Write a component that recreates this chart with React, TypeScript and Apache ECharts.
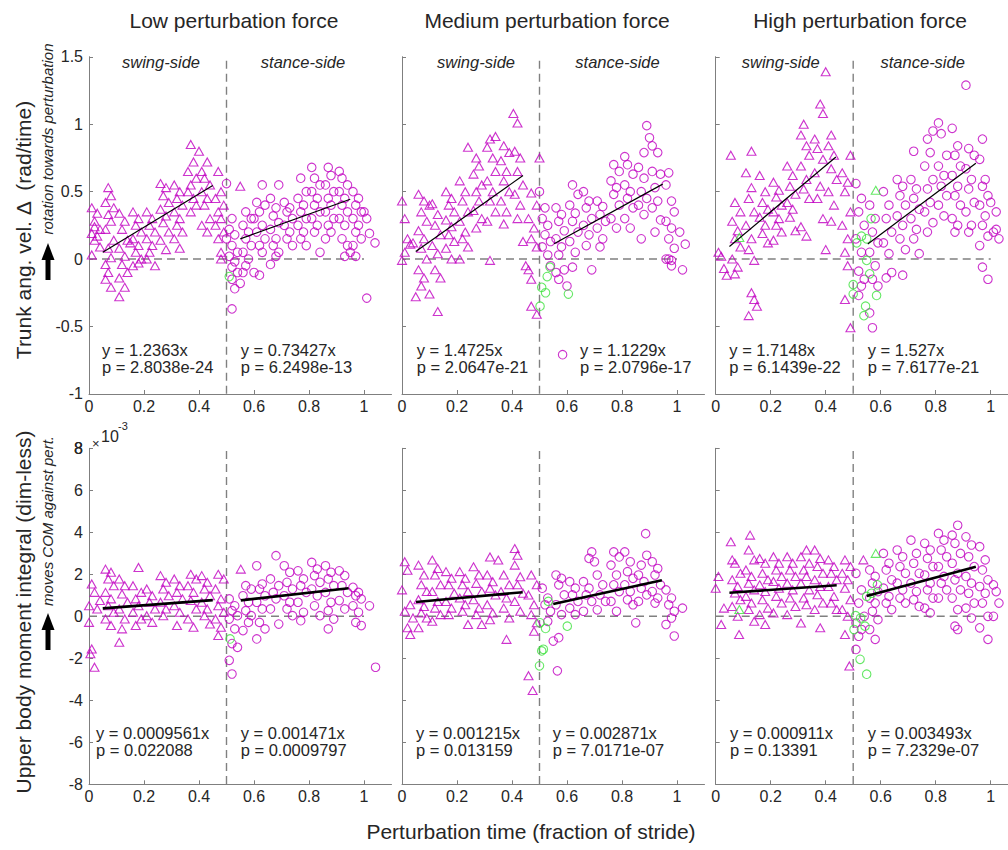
import React, { useEffect, useRef } from "react";
import * as echarts from "echarts";

// ---------------- data ----------------
const xTicks = [0, 0.2, 0.4, 0.6, 0.8, 1];
const yTicksTop = [-1, -0.5, 0, 0.5, 1, 1.5];
const yTicksBot = [-8, -6, -4, -2, 0, 2, 4, 6, 8];
const panelTitles = ["Low perturbation force", "Medium perturbation force", "High perturbation force"];
const sideLabels = ["swing-side", "stance-side"];

const topEqLeft = ["y = 1.2363x", "y = 1.4725x", "y = 1.7148x"];
const topPLeft = ["p = 2.8038e-24", "p = 2.0647e-21", "p = 6.1439e-22"];
const topEqRight = ["y = 0.73427x", "y = 1.1229x", "y = 1.527x"];
const topPRight = ["p = 6.2498e-13", "p = 2.0796e-17", "p = 7.6177e-21"];
const botEqLeft = ["y = 0.0009561x", "y = 0.001215x", "y = 0.000911x"];
const botPLeft = ["p = 0.022088", "p = 0.013159", "p = 0.13391"];
const botEqRight = ["y = 0.001471x", "y = 0.002871x", "y = 0.003493x"];
const botPRight = ["p = 0.0009797", "p = 7.0171e-07", "p = 7.2329e-07"];

// fitted line endpoints [x0, y0, x1, y1]; bottom row in units of 1e-3
const fitTopSwing = [[0.05, 0.05, 0.45, 0.545], [0.05, 0.056, 0.44, 0.62], [0.05, 0.093, 0.437, 0.757]];
const fitTopStance = [[0.55, 0.15, 0.95, 0.444], [0.553, 0.113, 0.948, 0.556], [0.553, 0.111, 0.946, 0.711]];
const fitBotSwing = [[0.05, 0.38, 0.45, 0.77], [0.051, 0.68, 0.439, 1.15], [0.05, 1.12, 0.44, 1.48]];
const fitBotStance = [[0.552, 0.76, 0.944, 1.34], [0.55, 0.59, 0.945, 1.72], [0.549, 0.97, 0.946, 2.36]];

// ---- top row: trunk angular velocity change (rad/time); flat [x, y, x, y, ...]
const triLowTop = [
  0.01,0.38, 0.03,0.34, 0.02,0.28, 0.04,0.22, 0.01,0.19, 0.03,0.17, 0.02,0.14, 0.04,0.09, 0.01,0.03, 0.02,0.24,
  0.07,0.53, 0.08,0.47, 0.06,0.42, 0.09,0.38, 0.07,0.33, 0.08,0.28, 0.06,0.22, 0.09,0.14, 0.07,0.08, 0.08,0.01, 0.06,-0.04, 0.07,-0.1, 0.06,-0.15, 0.08,-0.21,
  0.11,0.34, 0.13,0.28, 0.12,0.22, 0.14,0.14, 0.11,0.08, 0.13,0.02, 0.12,-0.04, 0.14,-0.1, 0.11,-0.14, 0.13,-0.21, 0.11,-0.28, 0.15,0.12,
  0.16,0.35, 0.18,0.3, 0.17,0.25, 0.19,0.2, 0.16,0.15, 0.18,0.1, 0.17,0.05, 0.19,0, 0.16,-0.05, 0.18,-0.03,
  0.21,0.35, 0.23,0.3, 0.22,0.25, 0.24,0.2, 0.21,0.15, 0.23,0.1, 0.22,0.05, 0.24,-0.05, 0.21,0.0,
  0.26,0.56, 0.28,0.53, 0.27,0.47, 0.29,0.42, 0.26,0.37, 0.28,0.32, 0.27,0.27, 0.29,0.2, 0.26,0.14, 0.28,0.07,
  0.31,0.55, 0.33,0.5, 0.32,0.45, 0.34,0.4, 0.31,0.35, 0.33,0.3, 0.32,0.25, 0.34,0.2, 0.31,0.15, 0.33,0.08,
  0.37,0.85, 0.4,0.8, 0.38,0.72, 0.36,0.65, 0.39,0.6, 0.37,0.55, 0.36,0.5, 0.38,0.45, 0.39,0.4, 0.37,0.35,
  0.43,0.72, 0.41,0.65, 0.42,0.6, 0.44,0.55, 0.41,0.5, 0.43,0.45, 0.42,0.4, 0.44,0.3, 0.41,0.25, 0.43,0.2,
  0.47,0.65, 0.48,0.5, 0.46,0.45, 0.49,0.4, 0.47,0.35, 0.48,0.3, 0.46,0.25, 0.49,0.2, 0.47,0.15, 0.48,0.05, 0.48,0.0,
  0.55,0.54,
];
const cirLowTop = [
  0.5,0.56, 0.52,0.3, 0.51,0.22, 0.53,0.18, 0.5,0.15, 0.52,0.1, 0.54,0.05, 0.51,0.02, 0.53,-0.02, 0.52,-0.06, 0.54,-0.1, 0.52,-0.15, 0.53,-0.22, 0.52,-0.37,
  0.57,0.35, 0.59,0.3, 0.56,0.25, 0.58,0.2, 0.57,0.15, 0.59,0.1, 0.56,0.05, 0.58,0.0, 0.57,-0.05, 0.56,-0.1, 0.55,-0.18,
  0.63,0.55, 0.61,0.42, 0.64,0.4, 0.62,0.35, 0.6,0.3, 0.63,0.25, 0.61,0.2, 0.64,0.15, 0.62,0.1, 0.63,0.05, 0.6,-0.1, 0.62,-0.12,
  0.69,0.55, 0.66,0.45, 0.68,0.38, 0.67,0.32, 0.69,0.27, 0.66,0.22, 0.68,0.15, 0.67,0.1, 0.69,0.05, 0.68,0.02, 0.66,-0.04,
  0.71,0.42, 0.73,0.38, 0.72,0.35, 0.74,0.3, 0.71,0.25, 0.73,0.2, 0.72,0.15, 0.74,0.1,
  0.77,0.6, 0.79,0.5, 0.76,0.45, 0.78,0.4, 0.77,0.35, 0.79,0.3, 0.76,0.25, 0.78,0.2, 0.77,0.15, 0.79,0.1,
  0.81,0.68, 0.82,0.6, 0.84,0.55, 0.81,0.5, 0.83,0.45, 0.82,0.4, 0.84,0.35, 0.81,0.3, 0.83,0.25, 0.82,0.2, 0.84,0.05,
  0.87,0.68, 0.88,0.62, 0.86,0.55, 0.89,0.5, 0.87,0.45, 0.88,0.4, 0.86,0.35, 0.89,0.3, 0.87,0.25, 0.88,0.2, 0.86,0.15,
  0.91,0.65, 0.92,0.6, 0.94,0.55, 0.91,0.5, 0.93,0.45, 0.92,0.4, 0.94,0.35, 0.91,0.3, 0.93,0.25, 0.92,0.15, 0.94,0.1, 0.95,0.05, 0.93,0.02,
  0.96,0.5, 0.98,0.45, 0.97,0.4, 0.99,0.35, 0.96,0.3, 0.98,0.25, 0.97,0.2, 0.99,0.15, 0.96,0.1, 0.97,0.02,
  1.0,0.35, 1.01,0.3, 1.04,0.12, 1.02,0.19, 1.01,-0.29,
];
const greenCirLowTop = [0.51,-0.13];
const greenTriLowTop: number[] = [];

const triMedTop = [
  0.0,0.43, 0.01,0.3, 0.02,0.15, 0.03,0.11, 0.01,0.05, 0.0,-0.01, 0.04,0.12,
  0.06,0.48, 0.08,0.43, 0.1,0.4, 0.07,0.35, 0.09,0.28, 0.06,0.21, 0.08,0.15, 0.07,0.08, 0.09,0, 0.06,-0.08, 0.08,-0.14, 0.07,-0.2, 0.05,-0.28,
  0.11,0.41, 0.13,0.33, 0.12,0.25, 0.14,0.18, 0.11,0.1, 0.13,0.04, 0.12,-0.08, 0.14,-0.14, 0.1,-0.26, 0.13,-0.39,
  0.16,0.5, 0.18,0.45, 0.17,0.4, 0.19,0.35, 0.16,0.29, 0.18,0.24, 0.17,0.18, 0.19,0.13, 0.16,0.08, 0.18,0,
  0.21,0.58, 0.23,0.5, 0.22,0.43, 0.24,0.35, 0.21,0.28, 0.23,0.2, 0.22,0.15, 0.24,0.09, 0.21,0,
  0.24,0.83, 0.27,0.75, 0.28,0.69, 0.26,0.63, 0.29,0.55, 0.27,0.5, 0.28,0.43, 0.26,0.36, 0.29,0.3, 0.27,0.23,
  0.32,0.89, 0.31,0.83, 0.33,0.75, 0.34,0.65, 0.31,0.58, 0.33,0.5, 0.32,0.43, 0.34,0.35, 0.31,0.28, 0.32,-0.01,
  0.34,0.91, 0.37,0.84, 0.39,0.79, 0.36,0.73, 0.38,0.65, 0.37,0.58, 0.39,0.5, 0.36,0.43, 0.38,0.35, 0.37,0.26,
  0.405,1.08, 0.42,1.01, 0.41,0.8, 0.43,0.75, 0.42,0.65, 0.44,0.55, 0.41,0.48, 0.43,0.4, 0.42,0.3, 0.44,0.13,
  0.5,0.75, 0.47,0.49, 0.49,0.4, 0.46,0.3, 0.48,0.23, 0.47,0.15, 0.49,0.09, 0.46,-0.08, 0.47,-0.15, 0.47,-0.35, 0.49,-0.41, 0.45,-0.05,
];
const cirMedTop = [
  0.5,0.5, 0.52,0.38, 0.51,0.3, 0.53,0.25, 0.52,0.18, 0.54,0.13, 0.51,0.09, 0.53,0.03, 0.54,-0.05,
  0.56,0.38, 0.58,0.33, 0.57,0.28, 0.59,0.21, 0.56,0.15, 0.58,0.09, 0.57,0.03, 0.59,-0.08, 0.57,-0.15, 0.56,-0.1,
  0.62,0.55, 0.64,0.48, 0.61,0.4, 0.63,0.34, 0.62,0.28, 0.64,0.2, 0.61,0.13, 0.63,0.05, 0.62,-0.06, 0.6,-0.2, 0.584,-0.71,
  0.66,0.5, 0.68,0.43, 0.67,0.38, 0.69,0.3, 0.66,0.25, 0.68,0.18, 0.67,0.1, 0.69,-0.08,
  0.71,0.43, 0.73,0.39, 0.72,0.33, 0.74,0.28, 0.71,0.23, 0.73,0.15, 0.72,0.09,
  0.81,0.76, 0.77,0.7, 0.79,0.65, 0.76,0.58, 0.78,0.53, 0.77,0.48, 0.79,0.4, 0.76,0.3, 0.78,0.23,
  0.82,0.7, 0.84,0.63, 0.81,0.55, 0.83,0.5, 0.82,0.45, 0.84,0.38, 0.81,0.3, 0.83,0.23,
  0.89,0.99, 0.9,0.9, 0.91,0.84, 0.88,0.79, 0.86,0.68, 0.88,0.6, 0.87,0.5, 0.89,0.45, 0.86,0.4, 0.88,0.33, 0.87,0.15,
  0.93,0.79, 0.91,0.65, 0.94,0.63, 0.92,0.53, 0.93,0.43, 0.91,0.38, 0.94,0.29, 0.92,0.2, 0.96,0, 0.98,-0.01,
  0.97,0.64, 0.96,0.55, 0.98,0.43, 0.99,0.35, 0.96,0.28, 0.98,0.23, 0.97,0.15, 0.99,0.08, 0.97,0, 0.98,-0.05,
  1.03,0.11, 1.01,0.2, 1.02,-0.08,
];
const greenCirMedTop = [0.538,-0.06, 0.528,-0.13, 0.508,-0.21, 0.522,-0.25, 0.502,-0.35, 0.605,-0.26];
const greenTriMedTop: number[] = [];

const triHighTop = [
  0.01,0.05, 0.03,-0.07, 0.04,-0.12, 0.02,0.02,
  0.055,0.77, 0.07,0.42, 0.09,0.35, 0.06,0.28, 0.08,0.21, 0.07,0.15, 0.09,0.09, 0.06,0, 0.08,-0.06, 0.07,-0.11,
  0.13,0.8, 0.11,0.64, 0.13,0.53, 0.12,0.45, 0.14,0.35, 0.11,0.25, 0.13,0.15, 0.12,0.07, 0.14,-0.01, 0.13,-0.25, 0.14,-0.3, 0.12,-0.42, 0.15,-0.35,
  0.16,0.62, 0.18,0.5, 0.17,0.42, 0.19,0.37, 0.16,0.31, 0.18,0.25, 0.17,0.19, 0.19,0.12,
  0.21,0.57, 0.23,0.51, 0.22,0.46, 0.24,0.4, 0.21,0.35, 0.23,0.3, 0.22,0.25, 0.24,0.2, 0.21,0.14,
  0.26,0.69, 0.28,0.62, 0.27,0.54, 0.29,0.48, 0.26,0.42, 0.28,0.37, 0.27,0.31, 0.29,0.21,
  0.32,1.0, 0.31,0.92, 0.33,0.84, 0.34,0.77, 0.31,0.69, 0.33,0.59, 0.32,0.52, 0.34,0.45, 0.31,0.24, 0.33,0.17,
  0.38,1.15, 0.39,1.08, 0.36,0.89, 0.37,0.82, 0.39,0.74, 0.36,0.64, 0.38,0.54, 0.37,0.45, 0.39,0.3, 0.4,0.07,
  0.4,1.39, 0.42,0.92, 0.41,0.84, 0.43,0.77, 0.42,0.67, 0.44,0.59, 0.41,0.5, 0.43,0.4, 0.42,0.28,
  0.49,0.77, 0.46,0.64, 0.48,0.57, 0.47,0.5, 0.49,0.35, 0.46,0.25, 0.48,0.15, 0.47,0.05, 0.48,-0.05, 0.47,-0.3, 0.49,-0.51,
];
const cirHighTop = [
  0.51,0.56, 0.53,0.45, 0.52,0.35, 0.54,0.25, 0.51,0.15, 0.53,0.05, 0.52,-0.09, 0.54,-0.15, 0.53,-0.2, 0.52,-0.27,
  0.56,0.4, 0.58,0.3, 0.57,0.2, 0.59,0.12, 0.56,0.05, 0.58,-0.05, 0.57,-0.15, 0.59,-0.2, 0.57,-0.51, 0.56,-0.4,
  0.61,0.5, 0.63,0.4, 0.62,0.3, 0.64,0.2, 0.61,0.12, 0.63,0.04, 0.62,-0.14, 0.64,-0.1,
  0.66,0.59, 0.68,0.54, 0.67,0.47, 0.69,0.4, 0.66,0.32, 0.68,0.25, 0.67,0.15, 0.69,0.07, 0.68,-0.12,
  0.72,0.8, 0.71,0.59, 0.73,0.52, 0.72,0.45, 0.74,0.37, 0.71,0.3, 0.73,0.22, 0.72,0.15, 0.74,0.04,
  0.79,0.95, 0.77,0.89, 0.78,0.79, 0.76,0.69, 0.79,0.59, 0.77,0.52, 0.78,0.42, 0.76,0.35, 0.79,0.27, 0.77,0.2,
  0.81,1.01, 0.82,0.93, 0.84,0.77, 0.81,0.69, 0.83,0.62, 0.82,0.54, 0.84,0.47, 0.81,0.4, 0.83,0.32,
  0.86,0.97, 0.88,0.84, 0.87,0.77, 0.89,0.69, 0.86,0.62, 0.88,0.54, 0.87,0.47, 0.89,0.4, 0.86,0.3, 0.88,0.25, 0.87,0.2,
  0.91,1.29, 0.92,0.82, 0.94,0.77, 0.91,0.67, 0.93,0.59, 0.92,0.52, 0.94,0.42, 0.91,0.35, 0.93,0.25, 0.92,0.2,
  0.97,0.89, 0.96,0.74, 0.98,0.59, 0.97,0.54, 0.99,0.47, 0.96,0.4, 0.98,0.32, 0.97,0.25, 0.99,0.17, 0.96,0.1, 0.97,-0.06, 0.99,-0.15,
  1.0,0.42, 1.02,0.35, 1.01,0.2, 1.03,0.15, 1.02,0.22,
];
const greenCirHighTop = [0.565,0.3, 0.513,0.12, 0.549,0.15, 0.549,-0.01, 0.5,-0.19, 0.5,-0.26, 0.545,-0.35, 0.539,-0.42, 0.585,-0.27, 0.56,-0.11, 0.53,0.17];
const greenTriHighTop = [0.086,0.16, 0.582,0.51];

// ---- bottom row: upper body moment integral, values in units of 1e-3
const triLowBot = [
  0.01,1.54, 0.02,1.14, 0.0,0.5, 0.03,0.35, 0.0,-0.29, 0.01,-1.56, 0.005,-1.79, 0.02,-2.43, 0.04,0.75,
  0.06,2.25, 0.08,2.1, 0.07,1.78, 0.09,1.46, 0.06,1.14, 0.08,0.83, 0.07,0.5, 0.09,0.19, 0.06,-0.13, 0.08,-0.44,
  0.11,1.78, 0.13,1.46, 0.12,1.06, 0.14,0.67, 0.11,0.35, 0.13,-0.13, 0.12,-0.6, 0.11,-1.24,
  0.18,2.33, 0.16,1.46, 0.19,1.14, 0.17,0.83, 0.18,0.5, 0.16,0.19, 0.19,-0.13, 0.17,-0.44,
  0.21,1.3, 0.23,0.98, 0.22,0.67, 0.24,0.35, 0.21,0.03, 0.23,-0.29,
  0.26,1.94, 0.28,1.62, 0.27,1.3, 0.29,0.98, 0.26,0.67, 0.28,0.35, 0.27,0.03,
  0.31,1.78, 0.33,1.46, 0.32,1.14, 0.34,0.83, 0.31,0.5, 0.33,0.19, 0.32,-0.44,
  0.37,2.0, 0.39,1.78, 0.36,1.46, 0.38,1.14, 0.37,0.75, 0.39,0.35, 0.36,-0.13, 0.38,-0.52,
  0.41,1.94, 0.43,1.62, 0.42,1.3, 0.44,0.98, 0.41,0.67, 0.43,0.35, 0.42,0.03, 0.44,-0.37,
  0.47,2.0, 0.49,1.78, 0.46,1.3, 0.48,0.83, 0.47,0.5, 0.49,0.19, 0.46,-0.13, 0.48,-0.52, 0.47,-0.92,
  0.552,2.25,
];
const cirLowBot = [
  0.51,0.83, 0.53,0.5, 0.52,0.27, 0.54,0.03, 0.51,-0.13, 0.53,-0.6, 0.52,-1.3, 0.54,-1.48, 0.51,-2.1, 0.52,-2.75,
  0.57,1.46, 0.59,1.3, 0.56,0.98, 0.58,0.67, 0.57,0.27, 0.59,0.03, 0.56,-0.68, 0.58,-0.29,
  0.61,2.41, 0.63,1.54, 0.62,1.3, 0.64,0.98, 0.61,0.67, 0.63,0.35, 0.62,-0.29, 0.64,-0.6, 0.61,-1.08,
  0.68,2.89, 0.66,1.78, 0.69,1.46, 0.67,1.14, 0.68,0.83, 0.66,0.35, 0.69,-0.37,
  0.71,2.41, 0.73,2.1, 0.72,1.62, 0.74,1.3, 0.71,0.98, 0.73,0.67, 0.72,0.35, 0.74,0.03,
  0.76,2.17, 0.78,1.78, 0.77,1.46, 0.79,1.14, 0.76,0.67, 0.78,0.19, 0.77,-0.21,
  0.81,2.57, 0.83,2.25, 0.82,1.94, 0.84,1.62, 0.81,1.3, 0.83,0.98, 0.82,0.5, 0.84,0.03,
  0.86,2.41, 0.88,2.1, 0.87,1.78, 0.89,1.46, 0.86,1.14, 0.88,0.67, 0.87,0.27, 0.89,-0.13, 0.87,-0.6,
  0.91,2.17, 0.93,1.94, 0.92,1.46, 0.94,1.14, 0.91,0.75, 0.93,0.35,
  0.96,1.38, 0.98,1.14, 0.97,0.98, 0.99,0.83, 0.96,0.5, 0.98,0.19, 0.97,-0.29, 0.99,-0.44,
  1.02,0.5, 1.042,-2.43,
];
const greenCirLowBot = [0.513,-1.08];
const greenTriLowBot: number[] = [];

const triMedBot = [
  0.01,2.6, 0.02,2.2, 0.0,1.26, 0.03,0.55, 0.01,0.24, 0.04,-0.08, 0.02,-0.55, 0.03,-0.87,
  0.06,2.44, 0.08,1.97, 0.07,1.5, 0.09,1.18, 0.06,0.79, 0.08,0.47, 0.07,0.16, 0.09,-0.08, 0.06,-0.55,
  0.11,2.68, 0.13,2.28, 0.12,1.97, 0.14,1.5, 0.11,1.18, 0.13,0.71, 0.12,0.39, 0.14,0.08, 0.11,-0.24,
  0.16,2.13, 0.18,1.81, 0.17,1.5, 0.19,1.1, 0.16,0.71, 0.18,0.39, 0.17,0.08,
  0.21,2.13, 0.23,1.81, 0.22,1.5, 0.24,1.18, 0.21,0.87, 0.23,0.55, 0.22,0.24, 0.24,-0.39,
  0.26,2.36, 0.28,1.97, 0.27,1.57, 0.29,1.18, 0.26,0.79, 0.28,0.39, 0.27,0.08, 0.29,-0.39,
  0.32,2.83, 0.31,1.97, 0.33,1.65, 0.32,1.34, 0.34,1.02, 0.31,0.55, 0.33,0.16, 0.32,-0.16,
  0.35,2.68, 0.37,1.97, 0.39,1.5, 0.36,1.18, 0.38,0.87, 0.37,0.39, 0.39,-0.08, 0.38,-1.1,
  0.41,3.23, 0.42,2.91, 0.41,2.44, 0.43,1.89, 0.42,1.5, 0.44,1.1, 0.41,0.71, 0.43,0.24,
  0.47,1.97, 0.49,1.5, 0.46,1.02, 0.48,0.55, 0.47,0.08, 0.49,-0.31, 0.48,-0.71, 0.46,-2.83, 0.475,-3.54,
];
const cirMedBot = [
  0.51,1.34, 0.53,0.87, 0.52,0.55, 0.54,0.24, 0.53,-0.24, 0.55,-1.18,
  0.56,1.97, 0.58,1.81, 0.57,1.5, 0.59,1.02, 0.56,0.55, 0.58,0.08, 0.57,-1.02, 0.565,-2.6,
  0.61,1.65, 0.63,1.34, 0.62,1.02, 0.64,0.71, 0.61,0.39, 0.63,0.08,
  0.69,3.07, 0.68,2.76, 0.7,2.6, 0.66,1.65, 0.68,1.34, 0.67,1.02, 0.69,0.71, 0.66,0.24,
  0.71,1.97, 0.73,1.5, 0.72,1.02, 0.74,0.71, 0.71,0.31,
  0.77,3.07, 0.79,2.83, 0.76,2.44, 0.78,1.97, 0.77,1.5, 0.79,1.18, 0.76,0.71, 0.78,0.24,
  0.81,3.07, 0.83,2.6, 0.82,2.13, 0.84,1.81, 0.81,1.5, 0.83,1.18, 0.82,0.79, 0.84,0.55, 0.85,-0.31,
  0.886,3.94, 0.89,2.91, 0.87,2.44, 0.86,1.97, 0.88,1.65, 0.87,1.34, 0.89,1.02, 0.86,0.71,
  0.91,2.6, 0.93,2.28, 0.92,1.97, 0.94,1.5, 0.91,1.18, 0.93,0.87, 0.92,0.63,
  0.96,1.26, 0.98,0.87, 0.97,0.55, 0.99,0.24, 0.98,-0.08, 0.96,-0.39, 0.99,-0.94,
  1.02,0.39,
];
const greenCirMedBot = [0.532,0.71, 0.502,-0.31, 0.522,-0.58, 0.514,-1.57, 0.508,-1.65, 0.5,-2.36, 0.601,-0.47];
const greenTriMedBot: number[] = [];

const triHighBot = [
  0.01,1.9, 0.0,1.34, 0.03,0.39, 0.02,-0.39,
  0.055,3.55, 0.06,2.69, 0.07,2.53, 0.09,2.05, 0.06,1.74, 0.08,1.42, 0.07,1.11, 0.09,0.79, 0.06,0.47, 0.08,0, 0.085,-0.87,
  0.125,3.87, 0.12,3.16, 0.14,2.69, 0.11,2.21, 0.13,1.9, 0.12,1.58, 0.14,1.26, 0.11,0.95, 0.13,0.63, 0.12,0.32, 0.14,-0.24,
  0.16,2.76, 0.18,2.53, 0.17,2.05, 0.19,1.74, 0.16,1.5, 0.18,1.18, 0.17,0.79, 0.19,0.39, 0.16,0.08, 0.18,-0.39,
  0.21,2.84, 0.23,2.53, 0.22,2.21, 0.24,1.9, 0.21,1.66, 0.23,1.34, 0.22,0.95, 0.24,0.63, 0.21,0.16,
  0.26,2.84, 0.28,2.53, 0.27,2.21, 0.29,1.9, 0.26,1.58, 0.28,1.26, 0.27,0.87, 0.29,0.47, 0.26,0.08,
  0.33,3.16, 0.31,2.84, 0.34,2.53, 0.32,2.21, 0.33,1.9, 0.31,1.58, 0.34,1.26, 0.32,0.87, 0.33,0.55, 0.31,-0.32,
  0.36,3.16, 0.38,2.76, 0.37,2.37, 0.39,2.05, 0.36,1.74, 0.38,1.42, 0.37,1.03, 0.39,0.63, 0.36,0.32, 0.38,-0.55,
  0.41,2.69, 0.43,2.37, 0.42,2.05, 0.44,1.74, 0.41,1.42, 0.43,0.95, 0.42,0.63, 0.44,0.32,
  0.47,2.69, 0.49,2.37, 0.46,2.05, 0.48,1.74, 0.47,1.34, 0.49,0.79, 0.46,0.32, 0.48,0, 0.47,-0.87, 0.486,-2.37,
  0.537,2.69,
];
const cirHighBot = [
  0.51,2.05, 0.53,1.26, 0.52,0.63, 0.54,0, 0.51,-0.32, 0.53,-0.63, 0.52,-0.95, 0.51,-1.58,
  0.56,2.21, 0.58,1.9, 0.57,1.58, 0.59,1.18, 0.56,0.87, 0.58,0.63, 0.57,0.24, 0.59,-0.16, 0.56,-0.63, 0.58,-1.1,
  0.61,3.0, 0.63,2.53, 0.62,2.21, 0.64,1.74, 0.61,1.34, 0.63,0.95, 0.62,0.63, 0.64,0.32,
  0.66,3.16, 0.68,2.84, 0.67,2.37, 0.69,2.05, 0.66,1.58, 0.68,1.26, 0.67,0.87, 0.69,0.63,
  0.71,3.63, 0.73,3.0, 0.72,2.53, 0.74,2.05, 0.71,1.58, 0.73,1.18, 0.72,0.79, 0.74,0.47,
  0.76,3.48, 0.78,3.16, 0.77,2.76, 0.79,2.37, 0.76,1.97, 0.78,1.58, 0.77,1.26, 0.79,0.87, 0.76,0.39, 0.78,0.16,
  0.81,3.95, 0.83,3.63, 0.82,3.16, 0.84,2.84, 0.81,2.37, 0.83,1.9, 0.82,1.58, 0.84,1.26, 0.81,0.87,
  0.88,4.34, 0.86,3.87, 0.87,3.48, 0.89,3.0, 0.86,2.53, 0.88,2.05, 0.87,1.74, 0.89,1.26, 0.86,0.87, 0.88,0.32, 0.87,-0.47, 0.88,-0.63,
  0.91,3.79, 0.93,3.4, 0.92,2.84, 0.94,2.37, 0.91,1.9, 0.93,1.58, 0.92,1.1, 0.94,0.63, 0.91,0.39, 0.93,-0.08,
  0.96,3.32, 0.98,2.69, 0.97,2.21, 0.99,1.74, 0.96,1.42, 0.98,1.1, 0.97,0.63, 0.99,0, 0.96,-0.55, 0.99,-1.1,
  1.01,1.5, 1.02,1.18, 1.03,0.63, 1.01,0,
];
const greenCirHighBot = [0.509,0.03, 0.503,-0.63, 0.527,-0.08, 0.543,-0.47, 0.549,0.95, 0.567,1.1, 0.588,1.5, 0.525,-2.05, 0.549,-2.76];
const greenTriHighBot = [0.086,0.32, 0.582,3.0];

// ---------------- layout / style ----------------
const FONT = "Liberation Sans, Arial, Helvetica, sans-serif";
const MAG = "#c000c0";
const GRN = "#3ee23e";
const AX = "#7f7f7f";
const DASH = "#808080";
const TXT = "#262626";
const COL_LEFT = [89, 402, 715.7];
const ROW_TOP = [56.7, 448.3];
const ROW_H = [337.3, 336];
const GRID_W = 302.5;
const EQ_TOP_L = [13, 14.7, 13.6];
const EQ_TOP_R = [151.7, 178, 152];
const EQ_BOT_L = [7, 14, 14.3];
const EQ_BOT_R = [151.7, 150.7, 152];
const SIDE_L = [72, 74, 65];
const SIDE_R = [214, 215.5, 207];
const TITLE_X = [234, 547, 860];

const pairs = (a: number[]) => {
  const out: number[][] = [];
  for (let i = 0; i + 1 < a.length; i += 2) out.push([a[i], a[i + 1]]);
  return out;
};

function buildOption() {
  const tri = [triLowTop, triMedTop, triHighTop, triLowBot, triMedBot, triHighBot];
  const cir = [cirLowTop, cirMedTop, cirHighTop, cirLowBot, cirMedBot, cirHighBot];
  const gTri = [greenTriLowTop, greenTriMedTop, greenTriHighTop, greenTriLowBot, greenTriMedBot, greenTriHighBot];
  const gCir = [greenCirLowTop, greenCirMedTop, greenCirHighTop, greenCirLowBot, greenCirMedBot, greenCirHighBot];
  const fitsSwing = [...fitTopSwing, ...fitBotSwing];
  const fitsStance = [...fitTopStance, ...fitBotStance];

  const grid: any[] = [];
  const xAxis: any[] = [];
  const yAxis: any[] = [];
  const series: any[] = [];
  const graphic: any[] = [];

  const txt = (text: string, x: number, y: number, size: number, extra: any = {}) => ({
    type: "text",
    x,
    y,
    rotation: extra.rotation || 0,
    silent: true,
    style: {
      text,
      x: 0,
      y: 0,
      fontSize: size,
      fontFamily: FONT,
      fontStyle: extra.italic ? "italic" : "normal",
      fill: extra.fill || TXT,
      align: extra.align || "left",
      textAlign: extra.align || "left",
      verticalAlign: "middle",
      textVerticalAlign: "middle",
    },
  });

  for (let r = 0; r < 2; r++) {
    const ymin = r === 0 ? -1 : -8;
    const ymax = r === 0 ? 1.5 : 8;
    const yTicks = r === 0 ? yTicksTop : yTicksBot;
    const eps = r === 0 ? 0.0015 : 0.01;
    for (let c = 0; c < 3; c++) {
      const k = r * 3 + c;
      grid.push({
        left: COL_LEFT[c],
        top: ROW_TOP[r],
        width: GRID_W,
        height: ROW_H[r],
        containLabel: false,
        outerBoundsMode: "none",
      });
      xAxis.push({
        type: "value",
        gridIndex: k,
        min: 0,
        max: 1.1,
        axisLine: { show: true, onZero: false, lineStyle: { color: AX, width: 1 } },
        axisTick: { show: true, inside: true, length: 4, lineStyle: { color: AX }, customValues: xTicks },
        axisLabel: {
          show: true,
          customValues: xTicks,
          fontSize: 16,
          fontFamily: FONT,
          color: TXT,
          margin: 4,
          hideOverlap: false,
          formatter: (v: number) => String(+(+v).toFixed(1)),
        },
        splitLine: { show: false },
      });
      yAxis.push({
        type: "value",
        gridIndex: k,
        min: ymin - eps,
        max: ymax + eps,
        axisLine: { show: true, onZero: false, lineStyle: { color: AX, width: 1 } },
        axisTick: { show: true, inside: true, length: 4, lineStyle: { color: AX }, customValues: yTicks },
        axisLabel: {
          show: c === 0,
          customValues: yTicks,
          showMaxLabel: true,
          showMinLabel: true,
          hideOverlap: false,
          fontSize: 16,
          fontFamily: FONT,
          color: TXT,
          margin: 6,
          formatter: (v: number) => String(+(+v).toFixed(1)),
        },
        splitLine: { show: false },
      });
      const base = { xAxisIndex: k, yAxisIndex: k, silent: true };
      series.push({
        ...base,
        type: "line",
        data: [[0.5, ymin], [0.5, ymax]],
        symbol: "none",
        lineStyle: { color: DASH, width: 1.4, type: [8, 5] },
        z: 1,
      });
      series.push({
        ...base,
        type: "line",
        data: [[0, 0], [1, 0]],
        symbol: "none",
        lineStyle: { color: DASH, width: 1.4, type: [8, 5] },
        z: 1,
      });
      const hollow = (color: string) => ({ color: "rgba(0,0,0,0)", borderColor: color, borderWidth: 1.1 });
      series.push({ ...base, type: "scatter", data: pairs(tri[k]), symbol: "triangle", symbolSize: [9, 8], itemStyle: hollow(MAG), z: 2 });
      series.push({ ...base, type: "scatter", data: pairs(cir[k]), symbol: "circle", symbolSize: 8.5, itemStyle: hollow(MAG), z: 2 });
      series.push({ ...base, type: "scatter", data: pairs(gTri[k]), symbol: "triangle", symbolSize: [9, 8], itemStyle: hollow(GRN), z: 2 });
      series.push({ ...base, type: "scatter", data: pairs(gCir[k]), symbol: "circle", symbolSize: 8.5, itemStyle: hollow(GRN), z: 2 });
      const lw = r === 0 ? 1.2 : 2.6;
      const fs = fitsSwing[k];
      const ft = fitsStance[k];
      series.push({ ...base, type: "line", data: [[fs[0], fs[1]], [fs[2], fs[3]]], symbol: "none", lineStyle: { color: "#000", width: lw }, z: 3 });
      series.push({ ...base, type: "line", data: [[ft[0], ft[1]], [ft[2], ft[3]]], symbol: "none", lineStyle: { color: "#000", width: lw }, z: 3 });

      // equations
      const eqL = r === 0 ? [topEqLeft[c], topPLeft[c]] : [botEqLeft[c], botPLeft[c]];
      const eqR = r === 0 ? [topEqRight[c], topPRight[c]] : [botEqRight[c], botPRight[c]];
      const dl = r === 0 ? EQ_TOP_L[c] : EQ_BOT_L[c];
      const dr = r === 0 ? EQ_TOP_R[c] : EQ_BOT_R[c];
      const y1 = r === 0 ? 349.5 : 732.7;
      const y2 = r === 0 ? 367 : 749.7;
      graphic.push(txt(eqL[0], COL_LEFT[c] + dl, y1, 16.5));
      graphic.push(txt(eqL[1], COL_LEFT[c] + dl, y2, 16.5));
      graphic.push(txt(eqR[0], COL_LEFT[c] + dr, y1, 16.5));
      graphic.push(txt(eqR[1], COL_LEFT[c] + dr, y2, 16.5));

      if (r === 0) {
        graphic.push(txt(panelTitles[c], TITLE_X[c], 20, 21, { align: "center" }));
        graphic.push(txt(sideLabels[0], COL_LEFT[c] + SIDE_L[c], 61.5, 16.5, { align: "center", italic: true }));
        graphic.push(txt(sideLabels[1], COL_LEFT[c] + SIDE_R[c], 61.5, 16.5, { align: "center", italic: true }));
      }
    }
  }

  // top tick label of the lower-left axis (the axis itself suppresses it next to the exponent)
  graphic.push(txt(String(yTicksBot[yTicksBot.length - 1]), COL_LEFT[0] - 6, ROW_TOP[1], 16, { align: "right" }));

  // y axis labels
  graphic.push(txt("Trunk ang. vel. \u0394  (rad/time)", 23, 230, 21, { align: "center", rotation: Math.PI / 2 }));
  graphic.push(txt("rotation towards perturbation", 47, 139, 15, { align: "center", rotation: Math.PI / 2, italic: true }));
  graphic.push(txt("Upper body moment integral (dim-less)", 23, 612, 21, { align: "center", rotation: Math.PI / 2 }));
  graphic.push(txt("moves COM against pert.", 47, 521, 15, { align: "center", rotation: Math.PI / 2, italic: true }));
  // arrows
  const arrow = (tipY: number) => [
    { type: "polygon", silent: true, shape: { points: [[48, tipY], [41.5, tipY + 17], [54.5, tipY + 17]] }, style: { fill: "#000" } },
    { type: "rect", silent: true, shape: { x: 45.5, y: tipY + 15, width: 5, height: 22 }, style: { fill: "#000" } },
  ];
  graphic.push(...arrow(243), ...arrow(613));
  // exponent
  graphic.push(txt("\u00d7", 92, 443, 13));
  graphic.push(txt("10", 101, 436, 16));
  graphic.push(txt("-3", 118, 426, 11));
  // x title
  graphic.push(txt("Perturbation time (fraction of stride)", 531, 831, 21, { align: "center" }));

  return {
    animation: false,
    backgroundColor: "#ffffff",
    grid,
    xAxis,
    yAxis,
    series,
    graphic,
  };
}

export default function App() {
  const ref = useRef<HTMLDivElement>(null);
  useEffect(() => {
    if (!ref.current) return;
    const chart = echarts.init(ref.current, undefined, { renderer: "svg" });
    chart.setOption(buildOption() as any);
    return () => chart.dispose();
  }, []);
  return (
    <div
      ref={ref}
      style={{ position: "fixed", left: 0, top: 0, width: 1008, height: 850, background: "#fff" }}
    />
  );
}
